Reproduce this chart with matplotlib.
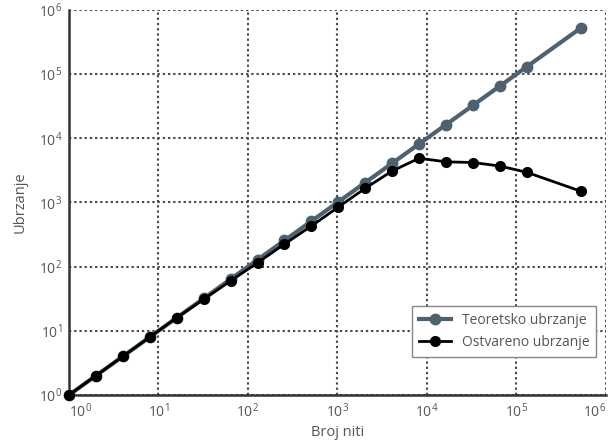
import numpy as np
import matplotlib.pyplot as plt

# broj niti (powers of two, 2^18 missing in the original)
threads = [1, 2, 4, 8, 16, 32, 64, 128, 256, 512, 1024, 2048, 4096, 8192,
           16384, 32768, 65536, 131072, 524288]
theoretical = threads
achieved = [1, 2, 4, 8, 16, 31, 60, 115, 225, 430, 850, 1670, 3100, 4900,
            4300, 4200, 3700, 2950, 1500]

plt.rcParams['font.family'] = ['Open Sans', 'DejaVu Sans']
plt.rcParams['mathtext.fontset'] = 'custom'
plt.rcParams['mathtext.rm'] = 'Open Sans'
plt.rcParams['mathtext.it'] = 'Open Sans'
plt.rcParams['mathtext.default'] = 'rm'
text_col = '#555555'

fig = plt.figure(figsize=(6.08, 4.43), dpi=100)
ax = fig.add_axes([0.1135, 0.1084, 0.883, 0.869])

ax.plot(threads, theoretical, color='#4d626e', lw=3, marker='o', ms=7.5,
        label='Teoretsko ubrzanje', clip_on=False, zorder=3)
ax.plot(threads, achieved, color='black', lw=2, marker='o', ms=7,
        label='Ostvareno ubrzanje', clip_on=False, zorder=4)

ax.set_xscale('log')
ax.set_yscale('log')
ax.set_xlim(1, 1e6)
ax.set_ylim(1, 1e6)
ticks = [10.0**i for i in range(7)]
tick_labels = ['$10^{%d}$' % i for i in range(7)]
ax.set_xticks(ticks, tick_labels)
ax.set_yticks(ticks, tick_labels)
ax.minorticks_off()
ax.tick_params(length=0, labelsize=10, colors=text_col, pad=5)
ax.get_xticklabels()[-1].set_ha('right')
ax.get_xticklabels()[0].set_ha('left')

ax.grid(True, which='major', linestyle=(0, (1.1, 1.4)), color='#4a4a4a', lw=1.5)
ax.set_axisbelow(True)
for s in ['top', 'right']:
    ax.spines[s].set_visible(False)
for s in ['left', 'bottom']:
    ax.spines[s].set_color('#333333')
    ax.spines[s].set_linewidth(1.8)

ax.set_xlabel('Broj niti', fontsize=10.5, color=text_col, labelpad=3)
ax.set_ylabel('Ubrzanje', fontsize=10.5, color=text_col, labelpad=8)

leg = ax.legend(loc='lower right', bbox_to_anchor=(0.995, 0.08), fontsize=10,
                fancybox=False, framealpha=1, edgecolor='#888888',
                labelcolor=text_col, handlelength=2.3, borderpad=0.5)

fig.savefig('out.png', dpi=100)
